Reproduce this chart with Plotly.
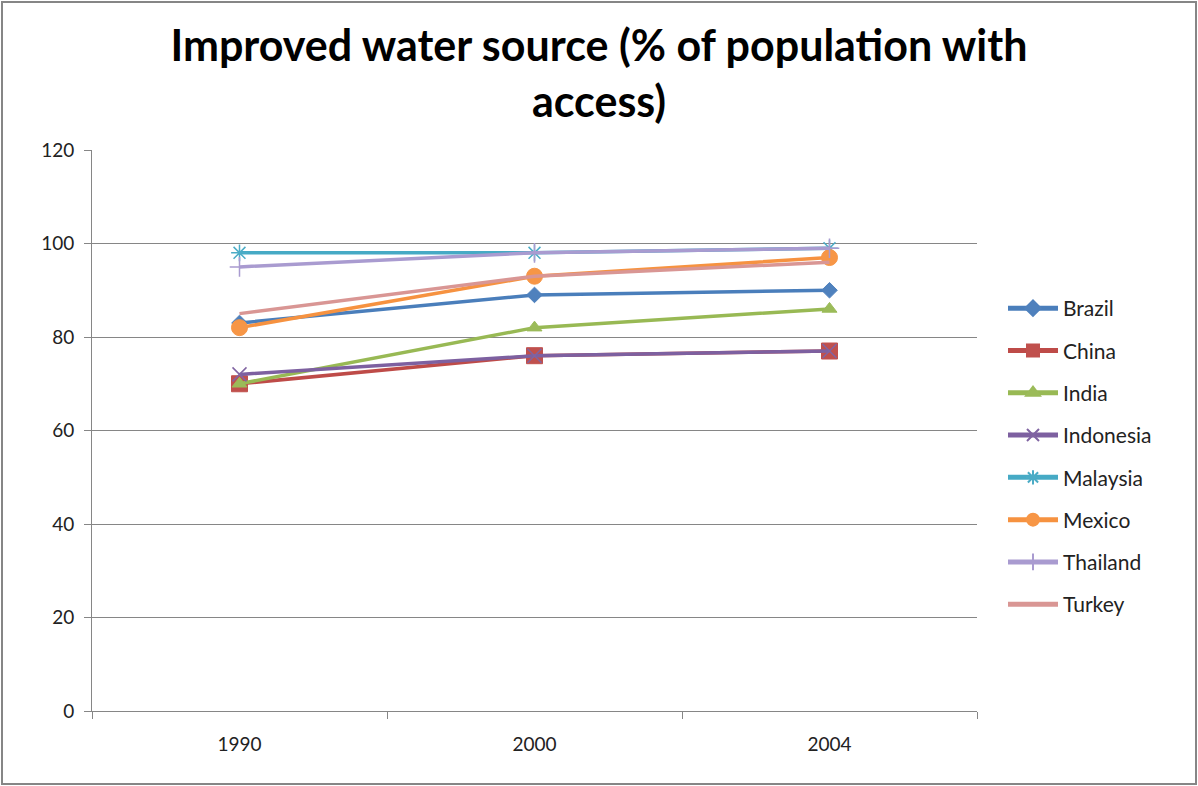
import plotly.graph_objects as go

years = ["1990", "2000", "2004"]
countries = ["Brazil", "China", "India", "Indonesia", "Malaysia", "Mexico", "Thailand", "Turkey"]
brazil = [83, 89, 90]
china = [70, 76, 77]
india = [70, 82, 86]
indonesia = [72, 76, 77]
malaysia = [98, 98, 99]
mexico = [82, 93, 97]
thailand = [95, 98, 99]
turkey = [85, 93, 96]
values = [brazil, china, india, indonesia, malaysia, mexico, thailand, turkey]

line_colors = ["#4A7EBB", "#BE4B48", "#98B954", "#7D60A0", "#46AAC5", "#F69240", "#A99BD0", "#D99694"]
marker_colors = ["#4F81BD", "#C0504D", "#9BBB59", "#8064A2", "#4BACC6", "#F79646", "#A99BD0", "#D99694"]
symbols = ["diamond", "square", "triangle-up", "x-thin-open", "asterisk-open", "circle", "cross-thin-open", "circle"]
sizes = [12, 16, 13, 14, 14, 16, 14, 0]

fig = go.Figure()
for name, vals, lc, mc, sym, sz in zip(countries, values, line_colors, marker_colors, symbols, sizes):
    marker = dict(symbol=sym, size=sz, color=mc)
    marker["line"] = dict(color=mc, width=1.5 if sym.endswith("open") else 1)
    fig.add_trace(go.Scatter(
        x=years, y=vals, name=name, legendgroup=name,
        mode="lines+markers" if sz > 0 else "lines",
        line=dict(color=lc, width=3.5), marker=marker,
    ))

W, H = 1198, 786
ml, mr, mt, mb = 92, 221, 150, 75
pw, ph = W - ml - mr, H - mt - mb

fig.update_layout(
    width=W, height=H, autosize=False,
    margin=dict(l=ml, r=mr, t=mt, b=mb),
    paper_bgcolor="white", plot_bgcolor="white",
    font=dict(family="Lato, Open Sans, sans-serif", color="#222222"),
    title=dict(
        text="<b>Improved water source (% of population with<br>access)</b>",
        x=0.5, xanchor="center", y=1 - 61 / H, yanchor="middle",
        font=dict(size=43, color="#000000", family="Lato, Open Sans, sans-serif"),
    ),
    legend=dict(
        x=(1003 - ml) / pw, xanchor="left", y=(H - mb - 288) / ph, yanchor="top",
        font=dict(size=21, color="#222222"), tracegroupgap=12, itemwidth=50,
        itemsizing="constant", bgcolor="rgba(0,0,0,0)",
    ),
    showlegend=True,
    xaxis=dict(
        type="category", tickson="boundaries", ticks="outside", ticklen=7,
        range=[-0.5, 2.5],
        tickcolor="#868686", showgrid=False, showline=True, linecolor="#868686",
        linewidth=1, tickfont=dict(size=19, color="#222222"), ticklabelstandoff=16,
    ),
    yaxis=dict(
        range=[0, 120], dtick=20, ticks="outside", ticklen=7, tickcolor="#868686",
        showgrid=True, gridcolor="#868686", gridwidth=1, showline=True,
        linecolor="#868686", linewidth=1, zeroline=False,
        tickfont=dict(size=19, color="#222222"), ticklabelstandoff=6,
    ),
    shapes=[dict(
        type="rect", xref="paper", yref="paper",
        x0=(2 - ml) / pw, x1=(W - 2 - ml) / pw,
        y0=-(mb - 2) / ph, y1=(H - mb - 2) / ph,
        line=dict(color="#868686", width=2), layer="below",
    )],
)
fig.write_html(
    "out.html",
    config={"displayModeBar": False},
    post_script="document.body.style.margin='0';document.body.style.overflow='hidden';",
)
